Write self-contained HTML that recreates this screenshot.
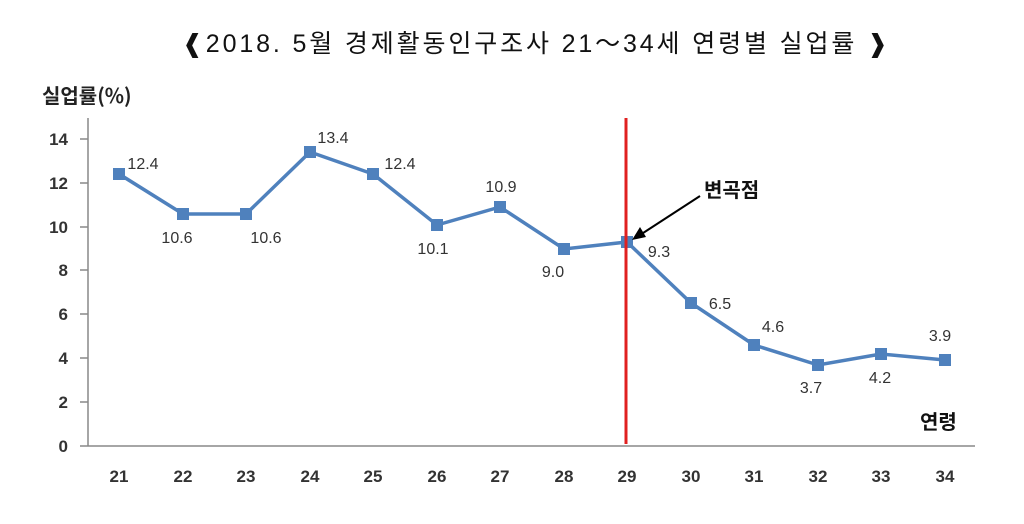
<!DOCTYPE html>
<html><head><meta charset="utf-8"><style>
html,body{margin:0;padding:0;background:#fff;}
svg{display:block;}
</style></head><body>
<svg width="1024" height="524" viewBox="0 0 1024 524" xmlns="http://www.w3.org/2000/svg">
<rect width="1024" height="524" fill="#fff"/>
<text x="182" y="52" textLength="706" lengthAdjust="spacing" font-family="Liberation Sans, 'Noto Sans CJK KR', sans-serif" font-size="25" fill="#111">❰2018. 5월  경제활동인구조사 21～34세  연령별  실업률 ❱</text>
<text x="42" y="103" font-family="'Noto Sans CJK KR', sans-serif" font-weight="bold" font-size="20" fill="#222">실업률(%)</text>
<g stroke="#888" stroke-width="1.5">
<line x1="88" y1="118" x2="88" y2="446"/>
<line x1="88" y1="446" x2="975" y2="446"/>
<line x1="80" y1="446" x2="88" y2="446"/><line x1="80" y1="402" x2="88" y2="402"/><line x1="80" y1="358" x2="88" y2="358"/><line x1="80" y1="314" x2="88" y2="314"/><line x1="80" y1="270" x2="88" y2="270"/><line x1="80" y1="227" x2="88" y2="227"/><line x1="80" y1="183" x2="88" y2="183"/><line x1="80" y1="139" x2="88" y2="139"/>
</g>
<g font-family="Liberation Sans, sans-serif" font-weight="bold" font-size="17" fill="#333" text-anchor="end">
<text x="68" y="452">0</text><text x="68" y="408">2</text><text x="68" y="364">4</text><text x="68" y="320">6</text><text x="68" y="276">8</text><text x="68" y="233">10</text><text x="68" y="189">12</text><text x="68" y="145">14</text>
</g>
<g font-family="Liberation Sans, sans-serif" font-weight="bold" font-size="17" fill="#333" text-anchor="middle">
<text x="119" y="482">21</text><text x="183" y="482">22</text><text x="246" y="482">23</text><text x="310" y="482">24</text><text x="373" y="482">25</text><text x="437" y="482">26</text><text x="500" y="482">27</text><text x="564" y="482">28</text><text x="627" y="482">29</text><text x="691" y="482">30</text><text x="754" y="482">31</text><text x="818" y="482">32</text><text x="881" y="482">33</text><text x="945" y="482">34</text>
</g>
<polyline fill="none" stroke="#4f81bd" stroke-width="3.5" points="119,174 183,214 246,214 310,152 373,174 437,225 500,207 564,249 627,242 691,303 754,345 818,365 881,354 945,360"/>
<g fill="#4f81bd">
<rect x="113" y="168" width="12" height="12"/><rect x="177" y="208" width="12" height="12"/><rect x="240" y="208" width="12" height="12"/><rect x="304" y="146" width="12" height="12"/><rect x="367" y="168" width="12" height="12"/><rect x="431" y="219" width="12" height="12"/><rect x="494" y="201" width="12" height="12"/><rect x="558" y="243" width="12" height="12"/><rect x="621" y="236" width="12" height="12"/><rect x="685" y="297" width="12" height="12"/><rect x="748" y="339" width="12" height="12"/><rect x="812" y="359" width="12" height="12"/><rect x="875" y="348" width="12" height="12"/><rect x="939" y="354" width="12" height="12"/>
</g>
<line x1="626" y1="118" x2="626" y2="444" stroke="#e02020" stroke-width="3"/>
<g font-family="Liberation Sans, sans-serif" font-size="16" fill="#333" text-anchor="middle">
<text x="143" y="169">12.4</text><text x="177" y="243">10.6</text><text x="266" y="243">10.6</text><text x="333" y="143">13.4</text><text x="400" y="169">12.4</text><text x="433" y="254">10.1</text><text x="501" y="192">10.9</text><text x="553" y="277">9.0</text><text x="659" y="257">9.3</text><text x="720" y="309">6.5</text><text x="773" y="332">4.6</text><text x="811" y="393">3.7</text><text x="880" y="383">4.2</text><text x="940" y="341">3.9</text>
</g>
<line x1="700" y1="196" x2="640" y2="235" stroke="#000" stroke-width="2"/>
<polygon points="632,240 640,227 646,237" fill="#000"/>
<text x="704" y="197" font-family="'Noto Sans CJK KR', sans-serif" font-weight="bold" font-size="20" fill="#111">변곡점</text>
<text x="920" y="429" font-family="'Noto Sans CJK KR', sans-serif" font-weight="bold" font-size="20" fill="#111">연령</text>
</svg>
</body></html>
